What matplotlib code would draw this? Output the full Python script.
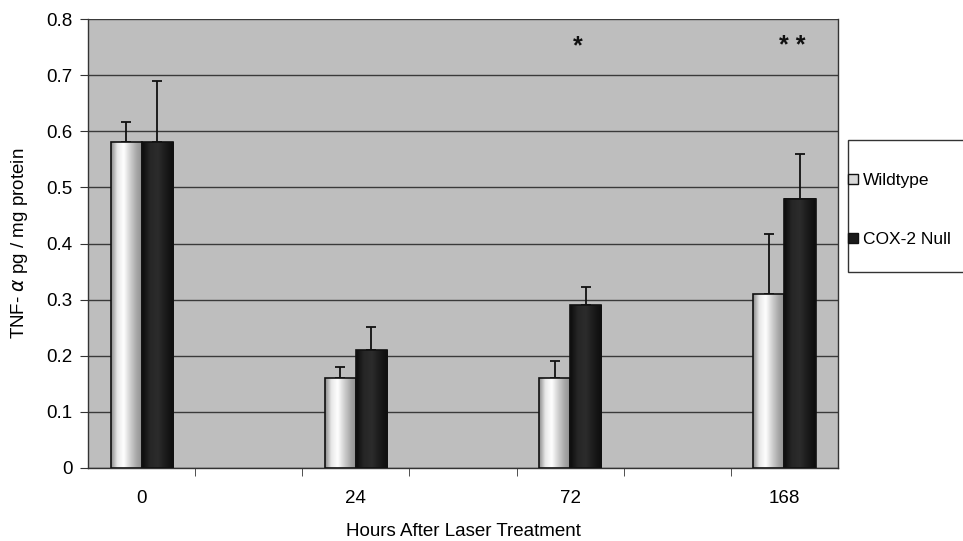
import numpy as np
import matplotlib
matplotlib.use("Agg")
import matplotlib.pyplot as plt
from matplotlib.patches import Rectangle
from matplotlib.colors import LinearSegmentedColormap

plt.rcParams['font.family'] = ['Liberation Sans', 'DejaVu Sans']

# ---- data ----
categories = ["0", "", "24", "", "72", "", "168"]
group_labels = ["0", "24", "72", "168"]
wildtype = [0.58, 0.16, 0.16, 0.31]
wildtype_err = [0.037, 0.02, 0.03, 0.107]
cox2_null = [0.58, 0.21, 0.29, 0.48]
cox2_null_err = [0.11, 0.042, 0.032, 0.08]
series_names = ["Wildtype", "COX-2 Null"]
sig_marks = ["", "", "*", "* *"]

fig = plt.figure(figsize=(9.63, 5.41), dpi=100)
ax = fig.add_axes([88/963, 73/541, 750/963, 449/541])
ax.set_facecolor('#bebebe')

group_pos = np.array([categories.index(g) for g in group_labels])
w = 0.29

light_cmap = LinearSegmentedColormap.from_list(
    'light', ['#8a8a8a', '#e8e8e8', '#ffffff', '#d0d0d0', '#a8a8a8', '#8c8c8c'])
dark_cmap = LinearSegmentedColormap.from_list(
    'dark', ['#0c0c0c', '#262626', '#2c2c2c', '#1a1a1a', '#0c0c0c'])

b1 = ax.bar(group_pos - w/2, wildtype, w, facecolor='none', edgecolor='#111111',
            linewidth=1.2, zorder=4)
b2 = ax.bar(group_pos + w/2, cox2_null, w, facecolor='none', edgecolor='#111111',
            linewidth=1.2, zorder=4)

grad = np.linspace(0, 1, 256).reshape(1, -1)
for bars, cmap in ((b1, light_cmap), (b2, dark_cmap)):
    for r in bars:
        x0, y0 = r.get_x(), r.get_y()
        ax.imshow(grad, cmap=cmap, aspect='auto', zorder=3,
                  extent=[x0, x0 + r.get_width(), y0, y0 + r.get_height()],
                  interpolation='bicubic')

ax.errorbar(group_pos - w/2, wildtype, yerr=[np.zeros(4), wildtype_err],
            fmt='none', ecolor='#111111', elinewidth=1.3, capsize=3.8,
            capthick=1.3, zorder=2)
ax.errorbar(group_pos + w/2, cox2_null, yerr=[np.zeros(4), cox2_null_err],
            fmt='none', ecolor='#111111', elinewidth=1.3, capsize=3.8,
            capthick=1.3, zorder=2)

for p, m in zip(group_pos, sig_marks):
    if m:
        ax.text(p + 0.07, 0.752, m, ha='center', va='center', fontsize=18,
                fontweight='bold', color='#111111')

ax.set_xlim(-0.5, len(categories) - 0.5)
ax.set_ylim(0, 0.8)
ax.set_yticks(np.arange(0, 0.81, 0.1))
ax.set_yticklabels(['0'] + [f'{v:.1f}' for v in np.arange(0.1, 0.81, 0.1)])
ax.yaxis.grid(True, color='#3a3a3a', linewidth=1.0)
ax.set_axisbelow(True)

ax.set_xticks(group_pos)
ax.set_xticklabels(group_labels)
ax.tick_params(axis='x', which='major', length=0, pad=16, labelsize=13.5)
ax.set_xticks(np.arange(0.5, len(categories) - 0.5, 1), minor=True)
ax.tick_params(axis='x', which='minor', length=6, direction='out', color='#333333')
ax.tick_params(axis='y', length=6, direction='out', labelsize=13.5, color='#333333',
               pad=5)

for s in ax.spines.values():
    s.set_color('#333333')
    s.set_linewidth(1.0)
ax.spines['top'].set_visible(False)

ax.set_xlabel('Hours After Laser Treatment', fontsize=13.5, labelpad=11)
ax.set_ylabel(r'TNF- $\alpha$ pg / mg protein', fontsize=13.5, labelpad=12)

# legend
fig.patches.append(Rectangle((848/963, (541-272)/541), 130/963, 132/541,
                             transform=fig.transFigure, facecolor='white',
                             edgecolor='#333333', linewidth=1.0))
handles = [Rectangle((0, 0), 1, 1, facecolor='#d8d8d8', edgecolor='#111111'),
           Rectangle((0, 0), 1, 1, facecolor='#1a1a1a', edgecolor='#111111')]
fig.legend(handles, series_names, loc='upper left',
           bbox_to_anchor=(848/963, (541-173)/541), frameon=False,
           fontsize=12.5, handlelength=0.55, handleheight=0.55,
           handletextpad=0.3, labelspacing=2.55, borderpad=0.0, borderaxespad=0)

fig.savefig('out.png', dpi=100)
